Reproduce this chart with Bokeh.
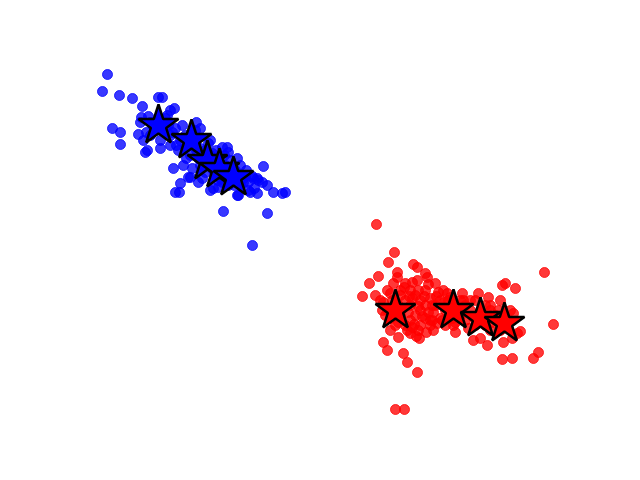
from bokeh.plotting import figure
from bokeh.models import Range1d
from bokeh.embed import file_html
from bokeh.resources import INLINE

blue_x = [107, 102, 119, 132, 142, 158, 162, 141, 112, 120, 120, 138, 143, 145, 147,
          170, 174, 167, 173, 180, 190, 175, 179, 198, 200, 210, 218, 223, 227, 222,
          237, 237, 263, 267, 257, 253, 250, 257, 273, 282, 285, 267, 252,
          150, 155, 165, 170, 175, 180, 185, 185, 195, 200, 205, 198, 210, 215, 213,
          220, 225, 230, 235, 240, 245, 248, 240, 228, 222, 205, 200, 190, 178, 170,
          160, 150, 165, 168, 195, 210, 230, 243, 258, 262, 236, 208, 212, 188, 243,
          248, 238, 146, 153,
          172, 182, 188, 196, 203, 216, 224, 232, 246, 252, 176, 186, 192, 218, 226,
          234, 213, 202, 160, 140, 148, 183, 196, 228, 254]
blue_y = [74, 91, 95, 98, 106, 97, 97, 117, 128, 132, 144, 134, 140, 152, 150,
          110, 108, 115, 168, 183, 177, 192, 192, 182, 128, 190, 187, 211, 147, 147,
          158, 195, 166, 185, 178, 178, 192, 193, 192, 193, 192, 213, 245,
          122, 130, 128, 135, 128, 140, 135, 147, 130, 148, 150, 158, 155, 160, 170,
          178, 165, 160, 170, 165, 175, 182, 185, 185, 182, 172, 165, 155, 150, 145,
          140, 135, 118, 125, 142, 140, 175, 178, 180, 182, 182, 143, 153, 177, 182,
          190, 195, 132, 126,
          132, 125, 145, 150, 162, 150, 155, 168, 170, 176, 145, 158, 168, 180, 172,
          185, 188, 178, 148, 122, 116, 165, 122, 152, 188]

red_x = [376, 394, 388, 413, 417, 378, 369, 362, 375, 397, 397, 425, 427, 435, 412,
         417, 405, 393, 390, 383, 387, 382, 443, 447, 450, 462, 478, 502, 505, 515,
         544, 553, 488, 490, 500, 510, 513, 520, 517, 503, 512, 502, 512, 533, 538,
         487, 473, 480, 455, 453, 437, 430, 419, 410, 398, 390, 383, 387, 403, 407,
         417, 395, 404, 475, 463,
         400, 405, 410, 415, 420, 425, 430, 420, 415, 410, 425, 405, 398, 390, 400,
         435, 440, 445, 440, 430, 420, 425, 410, 400, 460, 465, 470, 460, 465, 470,
         485, 490, 495, 485, 475, 490, 500, 495, 468, 455, 445, 433, 418, 412, 395,
         385, 380, 392, 387,
         402, 408, 412, 418, 422, 428, 432, 436, 404, 409, 414, 424, 428, 438, 442,
         407, 416, 426, 432, 448, 452, 458, 472, 482, 492, 498, 444, 418, 398, 433]
red_y = [224, 252, 262, 264, 267, 276, 283, 296, 295, 272, 277, 273, 277, 283, 282,
         280, 283, 283, 293, 302, 310, 310, 290, 293, 297, 293, 293, 285, 283, 288,
         272, 324, 297, 305, 300, 310, 313, 331, 333, 342, 338, 359, 358, 358, 352,
         345, 340, 338, 332, 325, 323, 320, 338, 333, 337, 330, 342, 350, 353, 362,
         372, 409, 409, 300, 300,
         295, 300, 305, 295, 300, 305, 298, 310, 315, 320, 318, 325, 322, 318, 315,
         305, 300, 310, 318, 325, 325, 290, 290, 290, 300, 305, 310, 315, 320, 300,
         305, 310, 320, 325, 325, 330, 330, 315, 328, 322, 325, 312, 330, 327, 325,
         315, 300, 300, 290,
         308, 312, 298, 306, 316, 312, 320, 296, 287, 296, 324, 296, 284, 292, 320,
         330, 336, 332, 305, 300, 318, 310, 316, 320, 322, 310, 302, 290, 305, 330]

blue_star_x = [158, 191, 207, 219, 233]
blue_star_y = [125, 140, 161, 169, 177]
red_star_x = [395, 453, 480, 504]
red_star_y = [310, 310, 318, 323]


def up(ys):
    return [480 - v for v in ys]


p = figure(width=624, height=464, output_backend="svg", toolbar_location=None,
           x_range=Range1d(0, 624), y_range=Range1d(16, 480),
           min_border=0, min_border_left=0, min_border_right=0,
           min_border_top=0, min_border_bottom=0)
p.axis.visible = False
p.grid.visible = False
p.outline_line_color = None
p.background_fill_color = "white"

p.scatter(blue_x, up(blue_y), size=10, fill_color="blue", line_color="blue",
          fill_alpha=0.78, line_alpha=0.78)
p.scatter(red_x, up(red_y), size=10, fill_color="red", line_color="red",
          fill_alpha=0.78, line_alpha=0.78)

p.scatter(blue_star_x, up(blue_star_y), marker="star", size=42,
          fill_color="blue", line_color="black", line_width=2.5)
p.scatter(red_star_x, up(red_star_y), marker="star", size=42,
          fill_color="red", line_color="black", line_width=2.5)

open("out.html", "w").write(file_html(p, INLINE))
